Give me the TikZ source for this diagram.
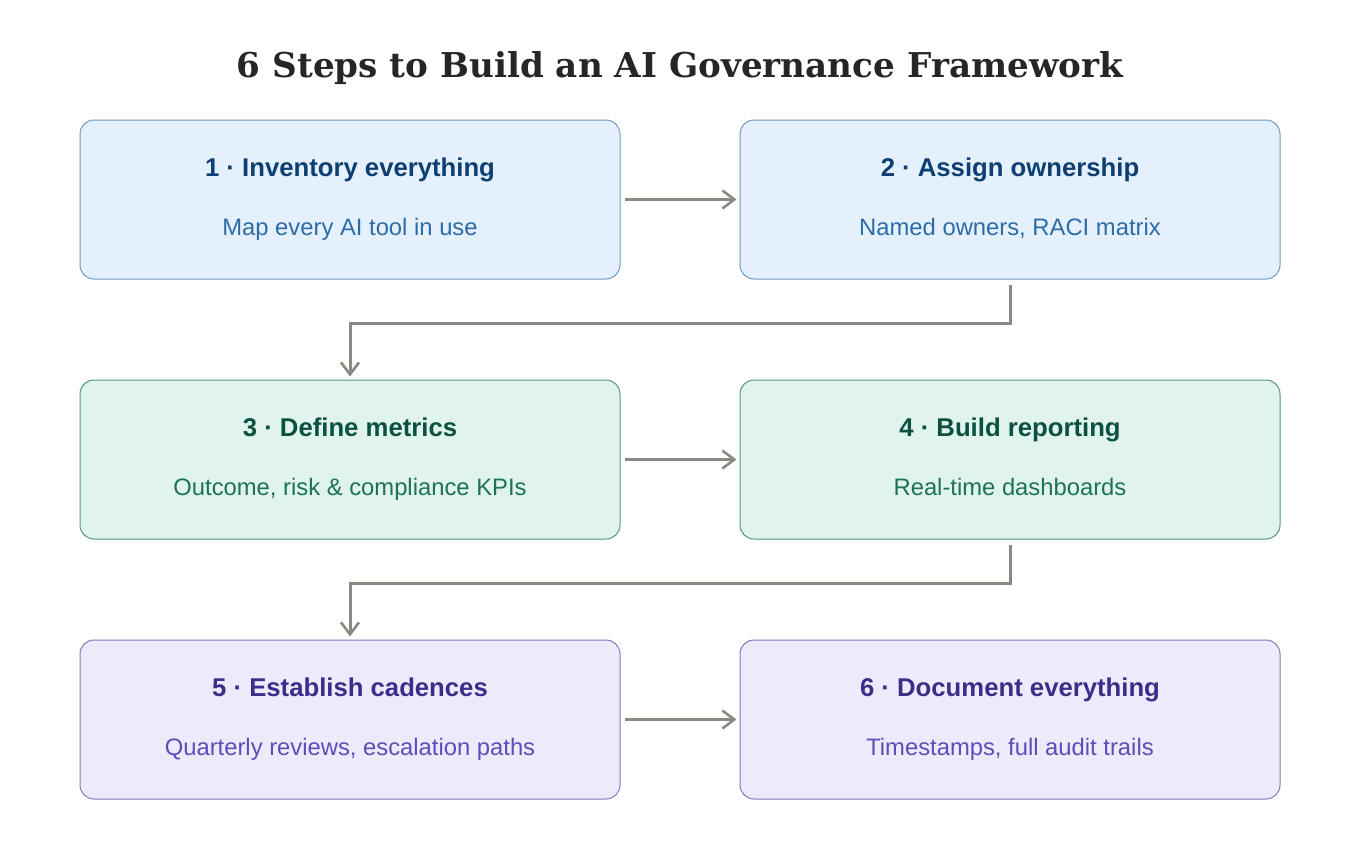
\documentclass[tikz,border=0pt]{standalone}
\usepackage{fontspec}
\setmainfont{Liberation Sans}
\newfontfamily\titlefont{DejaVu Serif}
\usetikzlibrary{arrows.meta}
\definecolor{bfill}{HTML}{E4F0FB}
\definecolor{bdraw}{HTML}{6F9AC2}
\definecolor{bhead}{HTML}{0E3F73}
\definecolor{bsub}{HTML}{2D6CA8}
\definecolor{gfill}{HTML}{E0F3EC}
\definecolor{gdraw}{HTML}{4F9A7C}
\definecolor{ghead}{HTML}{0B5142}
\definecolor{gsub}{HTML}{1D7356}
\definecolor{pfill}{HTML}{EDEBFB}
\definecolor{pdraw}{HTML}{8079C2}
\definecolor{phead}{HTML}{3B2E8A}
\definecolor{psub}{HTML}{5B4EB8}
\definecolor{arr}{HTML}{8A8A82}
\tikzset{
  card/.style={draw, line width=1pt, rounded corners=14pt, minimum width=540pt, minimum height=159pt, inner sep=0pt},
  bcard/.style={card, fill=bfill, draw=bdraw},
  gcard/.style={card, fill=gfill, draw=gdraw},
  pcard/.style={card, fill=pfill, draw=pdraw},
  head/.style={font=\fontsize{25.7}{30}\selectfont\bfseries, anchor=base, inner sep=0pt},
  sub/.style={font=\fontsize{23.8}{28}\selectfont, anchor=base, inner sep=0pt},
  conn/.style={draw=arr, line width=3pt, -{Straight Barb[length=12pt,width=18pt,line width=2.6pt]}},
}
\begin{document}
\begin{tikzpicture}[x=1pt,y=-1pt]
\useasboundingbox (0,0) rectangle (1360,860);
\node[font=\titlefont\fontsize{34.2}{40}\selectfont\bfseries, text=black!85, anchor=base, inner sep=0pt] (title) at (680,77) {6 Steps to Build an AI Governance Framework};

\node[bcard] (c1) at (350,199.5) {};
\node[bcard] (c2) at (1010,199.5) {};
\node[gcard] (c3) at (350,459.5) {};
\node[gcard] (c4) at (1010,459.5) {};
\node[pcard] (c5) at (350,719.5) {};
\node[pcard] (c6) at (1010,719.5) {};

\node[head, text=bhead] (h1) at (350,176) {1 · Inventory everything};
\node[sub, text=bsub] (s1) at (350,235) {Map every AI tool in use};
\node[head, text=bhead] (h2) at (1010,176) {2 · Assign ownership};
\node[sub, text=bsub] (s2) at (1010,235) {Named owners, RACI matrix};
\node[head, text=ghead] (h3) at (350,436) {3 · Define metrics};
\node[sub, text=gsub] (s3) at (350,495) {Outcome, risk \& compliance KPIs};
\node[head, text=ghead] (h4) at (1010,436) {4 · Build reporting};
\node[sub, text=gsub] (s4) at (1010,495) {Real-time dashboards};
\node[head, text=phead] (h5) at (350,696) {5 · Establish cadences};
\node[sub, text=psub] (s5) at (350,755) {Quarterly reviews, escalation paths};
\node[head, text=phead] (h6) at (1010,696) {6 · Document everything};
\node[sub, text=psub] (s6) at (1010,755) {Timestamps, full audit trails};

\draw[conn] ([xshift=4pt]c1.east) -- ([xshift=-3pt]c2.west);
\draw[conn] ([xshift=4pt]c3.east) -- ([xshift=-3pt]c4.west);
\draw[conn] ([xshift=4pt]c5.east) -- ([xshift=-3pt]c6.west);
\draw[conn] ([yshift=-5pt]c2.south) -- (1010,323) -- (350,323) -- ([yshift=3pt]c3.north);
\draw[conn] ([yshift=-5pt]c4.south) -- (1010,583) -- (350,583) -- ([yshift=3pt]c5.north);
\end{tikzpicture}
\end{document}
